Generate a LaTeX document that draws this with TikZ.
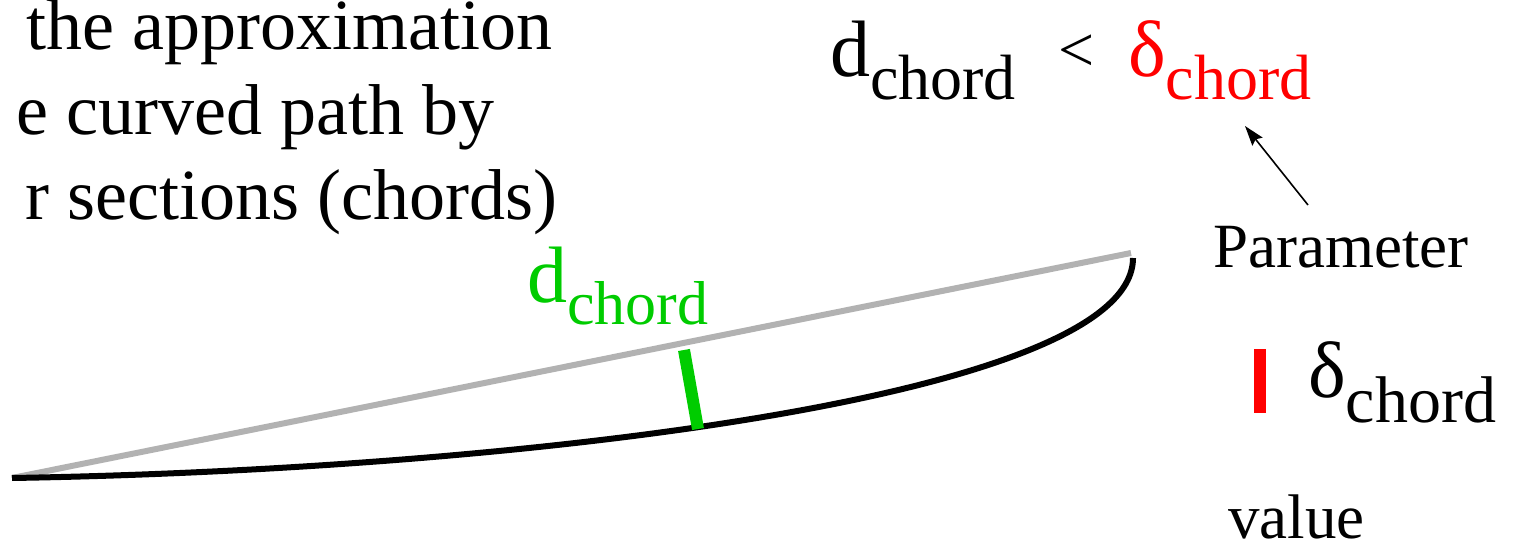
\documentclass[tikz,border=0pt]{standalone}
\usepackage{fontspec}
\setmainfont{Liberation Serif}
\usetikzlibrary{arrows.meta}
\newcommand{\fsz}[1]{\fontsize{#1}{#1}\selectfont}
\definecolor{chordgray}{RGB}{178,178,178}
\definecolor{dgreen}{RGB}{0,204,0}
\definecolor{dred}{RGB}{255,0,0}
\begin{document}
\begin{tikzpicture}[x=1pt,y=-1pt,
  body/.style={inner sep=0pt, anchor=base east, font=\rmfamily\fsz{72}},
  sym/.style={inner sep=0pt, anchor=base west, font=\rmfamily},
  lbl/.style={inner sep=0pt, anchor=base west, font=\rmfamily\fsz{63}},
  chordline/.style={draw=chordgray, line width=6pt},
  pathcurve/.style={draw=black, line width=6pt},
  bar/.style={line width=12pt},
  pointer/.style={draw=black, line width=1.6pt, -{Stealth[length=20pt,width=13pt,inset=3pt]}}]
\useasboundingbox (0,0) rectangle (1517,545);
% explanatory text (cut at the left edge)
\node[body, text height=49pt] (l1) at (553,50) {the approximation};
\node[body] (l2) at (495,135) {e curved path by};
\node[body] (l3) at (558,220) {r sections (chords)};
% condition
\node[sym] (dtop) at (830,77) {\fsz{80}d\raisebox{-23pt}{\fsz{64}chord}};
\node[sym] (lt) at (1058,72) {\fsz{64}<};
\node[sym, text=dred] (deltop) at (1128,77) {\fsz{80}δ\raisebox{-23pt}{\fsz{64}chord}};
% geometry
\coordinate (A) at (12,478);
\coordinate (B) at (1133,258);
\coordinate (C) at (1131,253);
\draw[chordline] (A) -- (C);
\draw[pathcurve] (A) .. controls (500,470) and (1133,400) .. (B);
\coordinate (g1) at (684,350);
\coordinate (g2) at (698,429);
\draw[bar, draw=dgreen] (g1) -- (g2);
\node[sym, text=dgreen] (dgr) at (527,302) {\fsz{80}d\raisebox{-22pt}{\fsz{62}chord}};
% parameter
\node[lbl] (param) at (1213,268) {Parameter};
\coordinate (p1) at (1308,205);
\coordinate (p2) at (1245,126);
\draw[pointer] (p1) -- (p2);
\coordinate (r1) at (1260,349);
\coordinate (r2) at (1260,413);
\draw[bar, draw=dred] (r1) -- (r2);
\node[sym] (delr) at (1308,397) {\fsz{80}δ\raisebox{-25pt}{\fsz{66}chord}};
\node[lbl, text depth=0pt] (val) at (1228,538) {value};
\end{tikzpicture}
\end{document}
